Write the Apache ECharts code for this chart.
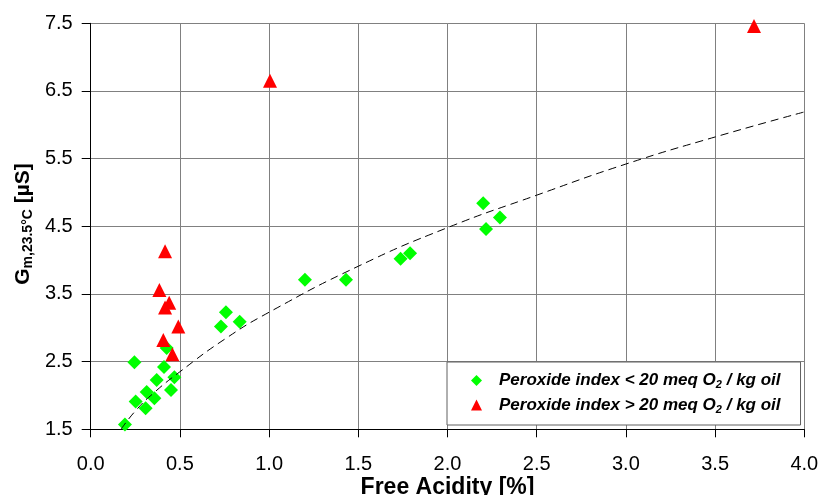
<!DOCTYPE html>
<html>
<head>
<meta charset="utf-8">
<script src="https://cdn.jsdelivr.net/npm/echarts@6/dist/echarts.min.js"></script>
<style>
  html, body { margin: 0; padding: 0; background: #fff; }
  #chart { width: 821px; height: 495px; }
</style>
</head>
<body>
<div id="chart"></div>
<script>
// Samples with peroxide index below 20 meq O2/kg oil
const lowX = [0.192, 0.245, 0.252, 0.308, 0.314, 0.357, 0.370, 0.411, 0.426, 0.450, 0.469,
              0.730, 0.758, 0.835, 1.201, 1.431, 1.737, 1.790, 2.200, 2.216, 2.294];
const lowY = [1.57, 2.49, 1.91, 1.81, 2.05, 1.96, 2.23, 2.42, 2.70, 2.08, 2.27,
              3.02, 3.23, 3.09, 3.71, 3.71, 4.02, 4.10, 4.84, 4.46, 4.63];

// Samples with peroxide index above 20 meq O2/kg oil
const highX = [0.417, 0.385, 0.440, 0.417, 0.491, 0.407, 0.458, 1.005, 3.718];
const highY = [4.13, 3.56, 3.37, 3.30, 3.02, 2.82, 2.61, 6.65, 7.46];

// Fitted trend curve through the low-peroxide samples
const trendX = [0.17, 0.25, 0.35, 0.50, 0.75, 1.00, 1.50, 2.00, 2.50, 3.00, 3.50, 4.00];
const trendY = [1.50, 1.77, 2.03, 2.35, 2.83, 3.23, 3.91, 4.48, 4.96, 5.42, 5.82, 6.19];

const seriesNames = ['Peroxide index < 20 meq O2 / kg oil', 'Peroxide index > 20 meq O2 / kg oil'];
const legendRich = [
  '{t|Peroxide index < 20 meq O}{s|2}{t| / kg oil}',
  '{t|Peroxide index > 20 meq O}{s|2}{t| / kg oil}'
];

const xTitle = 'Free Acidity [%]';
const FONT = "'Liberation Sans', Arial, sans-serif";

const zip = (xs, ys) => xs.map((x, i) => [x, ys[i]]);

const chart = echarts.init(document.getElementById('chart'), null, { renderer: 'canvas' });

chart.setOption({
  animation: false,
  backgroundColor: '#ffffff',
  grid: { left: 90.7, right: 16.7, top: 23.3, bottom: 65.7,
          containLabel: false, outerBoundsMode: 'none' },
  xAxis: {
    type: 'value',
    min: 0, max: 4, interval: 0.5,
    name: xTitle,
    nameLocation: 'middle',
    nameGap: 47,
    nameMoveOverlap: false,
    nameTextStyle: { fontFamily: FONT, fontWeight: 'bold', fontSize: 23, color: '#000' },
    axisLine: { show: true, onZero: false, lineStyle: { color: '#000', width: 1 } },
    axisTick: { show: true, inside: false, length: 8, lineStyle: { color: '#000', width: 1 } },
    axisLabel: { fontFamily: FONT, fontSize: 20, color: '#000', margin: 25,
                 formatter: v => v.toFixed(1) },
    splitLine: { show: true, lineStyle: { color: '#808080', width: 1 } }
  },
  yAxis: {
    type: 'value',
    min: 1.5, max: 7.5, interval: 1,
    axisLine: { show: true, onZero: false, lineStyle: { color: '#000', width: 1 } },
    axisTick: { show: true, inside: false, length: 9, lineStyle: { color: '#000', width: 1 } },
    axisLabel: { fontFamily: FONT, fontSize: 20, color: '#000', margin: 18,
                 formatter: v => v.toFixed(1) },
    splitLine: { show: true, lineStyle: { color: '#808080', width: 1 } }
  },
  legend: {
    orient: 'vertical',
    left: 447, top: 362,
    padding: [10, 20, 10, 24],
    itemGap: 6,
    itemWidth: 11, itemHeight: 11,
    backgroundColor: '#ffffff',
    borderColor: '#606060',
    borderWidth: 1,
    borderRadius: 0,
    data: [
      { name: seriesNames[0], icon: 'diamond' },
      { name: seriesNames[1], icon: 'triangle' }
    ],
    formatter: name => legendRich[seriesNames.indexOf(name)],
    textStyle: {
      padding: [0, 0, 0, 12],
      rich: {
        t: { fontFamily: FONT, fontSize: 17, fontWeight: 'bold', fontStyle: 'italic',
             color: '#000', lineHeight: 20 },
        s: { fontFamily: FONT, fontSize: 11, fontWeight: 'bold', fontStyle: 'italic',
             color: '#000', lineHeight: 12, verticalAlign: 'bottom' }
      }
    }
  },
  graphic: [{
    type: 'text',
    x: 23, y: 224,
    rotation: Math.PI / 2,
    style: {
      text: '{g|G}{s|m,23.5°C}{g| [µS]}',
      align: 'center', verticalAlign: 'middle',
      textAlign: 'center', textVerticalAlign: 'middle',
      rich: {
        g: { fontFamily: FONT, fontSize: 21, fontWeight: 'bold', fill: '#000', lineHeight: 24 },
        s: { fontFamily: FONT, fontSize: 14, fontWeight: 'bold', fill: '#000', lineHeight: 15,
             verticalAlign: 'bottom' }
      }
    }
  }],
  series: [
    {
      name: seriesNames[0],
      type: 'scatter',
      symbol: 'diamond',
      symbolSize: 14,
      itemStyle: { color: '#00ff00', opacity: 1 },
      data: zip(lowX, lowY)
    },
    {
      name: seriesNames[1],
      type: 'scatter',
      symbol: 'triangle',
      symbolSize: 14,
      itemStyle: { color: '#ff0000', opacity: 1 },
      data: zip(highX, highY)
    },
    {
      name: 'trend',
      type: 'line',
      smooth: 0.5,
      symbol: 'none',
      silent: true,
      lineStyle: { color: '#000', width: 1, type: [8, 5] },
      data: zip(trendX, trendY)
    }
  ]
});
</script>
</body>
</html>
